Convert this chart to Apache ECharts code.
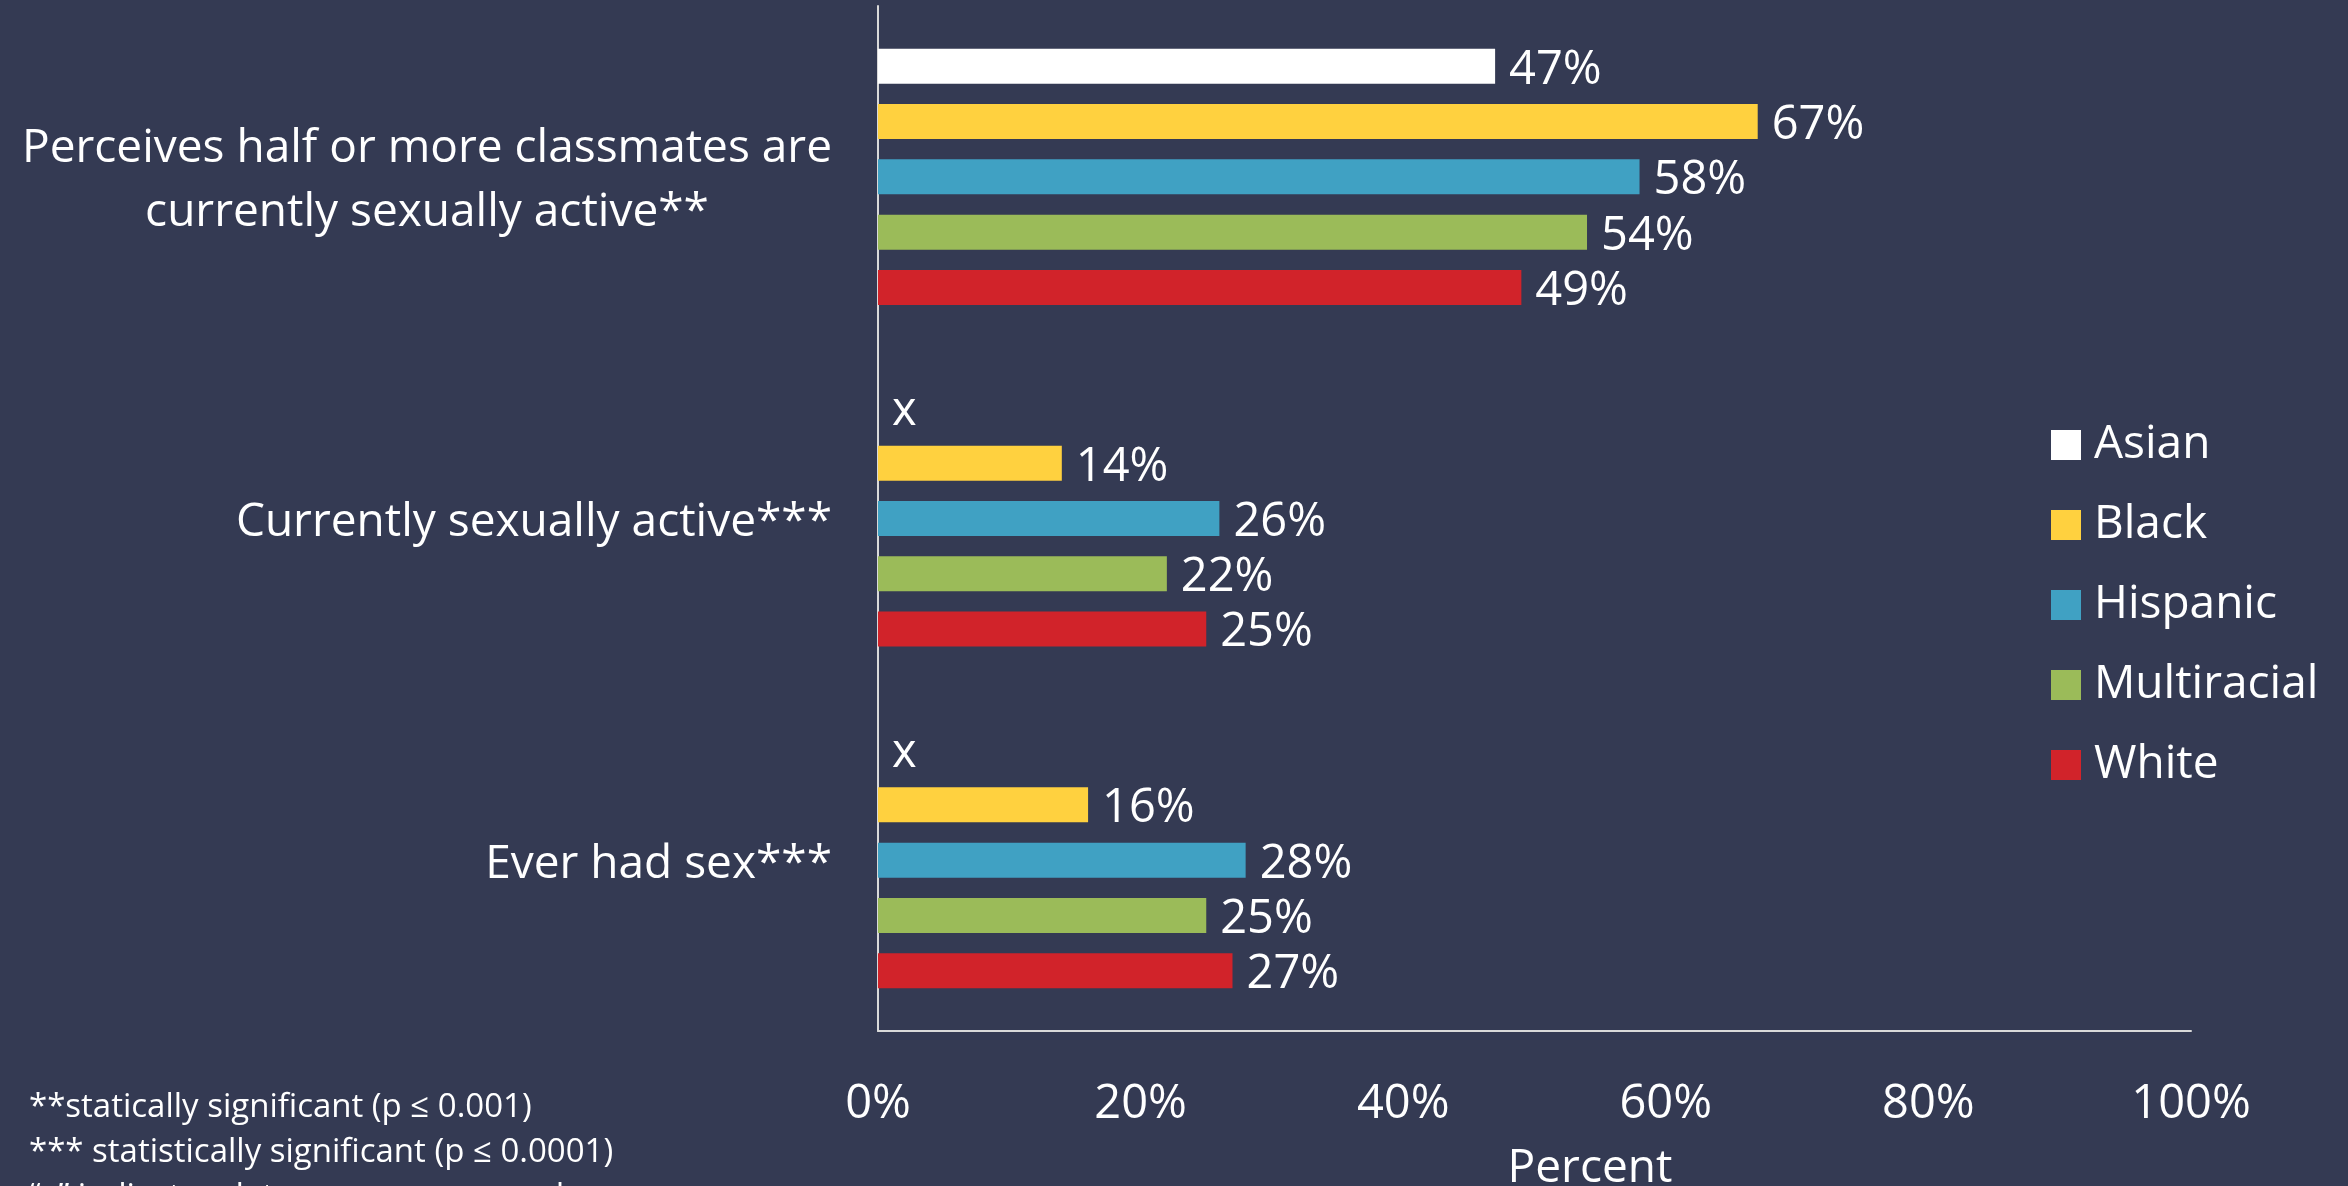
<!DOCTYPE html>
<html>
<head>
<meta charset="utf-8">
<script src="https://cdn.jsdelivr.net/npm/echarts@6/dist/echarts.min.js"></script>
<style>
  html, body { margin: 0; padding: 0; background: #343a53; }
  #chart { width: 2348px; height: 1186px; }
</style>
</head>
<body>
<div id="chart"></div>
<script>
const categories = [
  'Perceives half or more classmates are\ncurrently sexually active**',
  'Currently sexually active***',
  'Ever had sex***'
]
const seriesNames = ['Asian', 'Black', 'Hispanic', 'Multiracial', 'White']
// null = suppressed ("x")
const asian = [47, null, null]
const black = [67, 14, 16]
const hispanic = [58, 26, 28]
const multiracial = [54, 22, 25]
const white = [49, 25, 27]
const colors = ['#ffffff', '#ffd13f', '#40a1c3', '#9bbb59', '#d1232a']
const footnotes = [
  '**statically significant (p ≤ 0.001)',
  '*** statistically significant (p ≤ 0.0001)',
  '“x” indicates data were suppressed'
]

const font = '"Open Sans", "Noto Sans", sans-serif'
const chart = echarts.init(document.getElementById('chart'))

const allValues = [asian, black, hispanic, multiracial, white]
const series = seriesNames.map((name, i) => ({
  name: name,
  type: 'bar',
  barWidth: 35,
  barGap: '58%',
  itemStyle: { color: colors[i] },
  label: {
    show: true,
    position: 'right',
    distance: 14,
    offset: [0, 4],
    color: '#ffffff',
    fontSize: 47,
    fontFamily: font,
    formatter: '{c}%'
  },
  data: allValues[i].map((v) => v === null ? { value: 0, label: { formatter: 'x' } } : v)
}))

chart.setOption({
  backgroundColor: '#343a53',
  animation: false,
  title: {
    text: footnotes.join('\n'),
    left: 29,
    top: 1085,
    padding: 0,
    textStyle: {
      color: '#ffffff',
      fontSize: 33,
      lineHeight: 45,
      fontWeight: 'normal',
      fontFamily: font
    }
  },
  legend: {
    orient: 'vertical',
    left: 2046,
    top: 415,
    icon: 'rect',
    itemWidth: 30,
    itemHeight: 30,
    itemGap: 30,
    data: seriesNames,
    textStyle: {
      color: '#ffffff',
      fontSize: 46,
      lineHeight: 50,
      fontFamily: font,
      padding: [0, 0, 0, 8]
    }
  },
  grid: { left: 878, right: 157, top: 6, bottom: 155, outerBoundsMode: 'none' },
  xAxis: {
    type: 'value',
    min: 0,
    max: 100,
    interval: 20,
    name: 'Percent',
    nameLocation: 'middle',
    nameGap: 115,
    nameTextStyle: {
      color: '#ffffff',
      fontSize: 46,
      fontFamily: font,
      padding: [0, 0, 0, 111]
    },
    axisLine: { show: true, lineStyle: { color: '#d9d9d9', width: 2 } },
    axisTick: { show: false },
    splitLine: { show: false },
    axisLabel: {
      color: '#ffffff',
      fontSize: 47,
      fontFamily: font,
      margin: 50,
      formatter: '{value}%'
    }
  },
  yAxis: {
    type: 'category',
    inverse: true,
    data: categories,
    axisLine: { show: true, lineStyle: { color: '#d9d9d9', width: 2 } },
    axisTick: { show: false },
    axisLabel: {
      color: '#ffffff',
      fontSize: 46,
      fontFamily: font,
      margin: 46,
      padding: [9, 0, 0, 0],
      formatter: (val) => val.split('\n').map((s) => '{c|' + s + '}').join('\n'),
      rich: {
        c: { align: 'center', color: '#ffffff', fontSize: 46, lineHeight: 64, fontFamily: font }
      }
    }
  },
  series: series
})
</script>
</body>
</html>
